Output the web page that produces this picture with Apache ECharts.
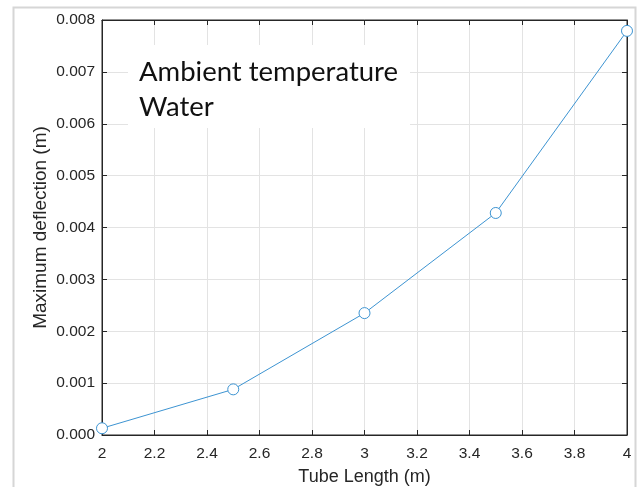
<!DOCTYPE html>
<html>
<head>
<meta charset="utf-8">
<script src="https://cdn.jsdelivr.net/npm/echarts@6/dist/echarts.min.js"></script>
<style>
  html, body { margin: 0; padding: 0; background: #fff; }
  #chart { width: 639px; height: 487px; }
</style>
</head>
<body>
<div id="chart"></div>
<script>
// Tube length (m) versus the maximum deflection (m)
const tubeLength = [2, 2.5, 3, 3.5, 4];
const maxDeflection = [0.00013, 0.00088, 0.00235, 0.00428, 0.00779];
const annotationLines = ['Ambient temperature', 'Water'];

const axisColor = '#262626';
const gridColor = '#e3e3e3';
const lineColor = '#3d94d2';
const labelFont = '"Liberation Sans", Arial, sans-serif';

const chart = echarts.init(document.getElementById('chart'), null, { renderer: 'canvas' });

// top and right axes close the box around the plot
const boxAxisCommon = {
  show: true,
  axisLine: { show: true, onZero: false, lineStyle: { color: axisColor, width: 1 } },
  axisTick: { show: true, inside: true, length: 5, lineStyle: { color: axisColor } },
  axisLabel: { show: false },
  splitLine: { show: false }
};

chart.setOption({
  animation: false,
  backgroundColor: '#ffffff',
  grid: {
    left: 102, top: 20, right: 12, bottom: 52,
    containLabel: false,
    outerBoundsMode: 'none',
    show: true,
    borderColor: axisColor,
    borderWidth: 1,
    backgroundColor: 'transparent'
  },
  graphic: [
    {
      type: 'rect',
      z: 0,
      silent: true,
      shape: { x: 13.5, y: 7.5, width: 622, height: 490 },
      style: { fill: 'none', stroke: '#d6d6d6', lineWidth: 2 }
    },
    {
      type: 'rect',
      z: 5,
      silent: true,
      shape: { x: 128, y: 45, width: 282, height: 83 },
      style: { fill: '#ffffff' }
    },
    {
      type: 'text',
      z: 6,
      silent: true,
      left: 139,
      top: 55,
      style: {
        text: annotationLines.join('\n'),
        font: '27.5px Lato, "Open Sans", sans-serif',
        lineHeight: 35,
        fill: '#111111'
      }
    }
  ],
  xAxis: [
    {
      type: 'value',
      min: 2, max: 4, interval: 0.2,
      name: 'Tube Length (m)',
      nameLocation: 'middle',
      nameGap: 33,
      nameTextStyle: { color: axisColor, fontSize: 18, fontFamily: labelFont },
      axisLine: { show: true, onZero: false, lineStyle: { color: axisColor, width: 1 } },
      axisTick: { show: true, inside: true, length: 5, lineStyle: { color: axisColor } },
      axisLabel: {
        color: axisColor, fontSize: 15.5, margin: 11,
        fontFamily: labelFont,
        formatter: v => String(Math.round(v * 10) / 10)
      },
      splitLine: { show: true, lineStyle: { color: gridColor, width: 1 } }
    },
    Object.assign({ type: 'value', position: 'top', min: 2, max: 4, interval: 0.2 }, boxAxisCommon)
  ],
  yAxis: [
    {
      type: 'value',
      min: 0, max: 0.008, interval: 0.001,
      name: 'Maximum deflection (m)',
      nameLocation: 'middle',
      nameGap: 52,
      nameMoveOverlap: false,
      nameTextStyle: { color: axisColor, fontSize: 19, fontFamily: labelFont },
      axisLine: { show: true, onZero: false, lineStyle: { color: axisColor, width: 1 } },
      axisTick: { show: true, inside: true, length: 5, lineStyle: { color: axisColor } },
      axisLabel: {
        color: axisColor, fontSize: 15.5, margin: 7,
        fontFamily: labelFont,
        formatter: v => v.toFixed(3)
      },
      splitLine: { show: true, lineStyle: { color: gridColor, width: 1 } }
    },
    Object.assign({ type: 'value', position: 'right', min: 0, max: 0.008, interval: 0.001 }, boxAxisCommon)
  ],
  series: [
    {
      type: 'line',
      z: 10,
      data: tubeLength.map((x, i) => [x, maxDeflection[i]]),
      symbol: 'circle',
      symbolSize: 11,
      showAllSymbol: true,
      lineStyle: { color: lineColor, width: 1 },
      itemStyle: { color: '#ffffff', borderColor: lineColor, borderWidth: 1 },
      clip: false
    },
    {
      // empty series that keeps the top and right box axes active
      type: 'line',
      xAxisIndex: 1,
      yAxisIndex: 1,
      silent: true,
      data: []
    }
  ]
});
</script>
</body>
</html>
